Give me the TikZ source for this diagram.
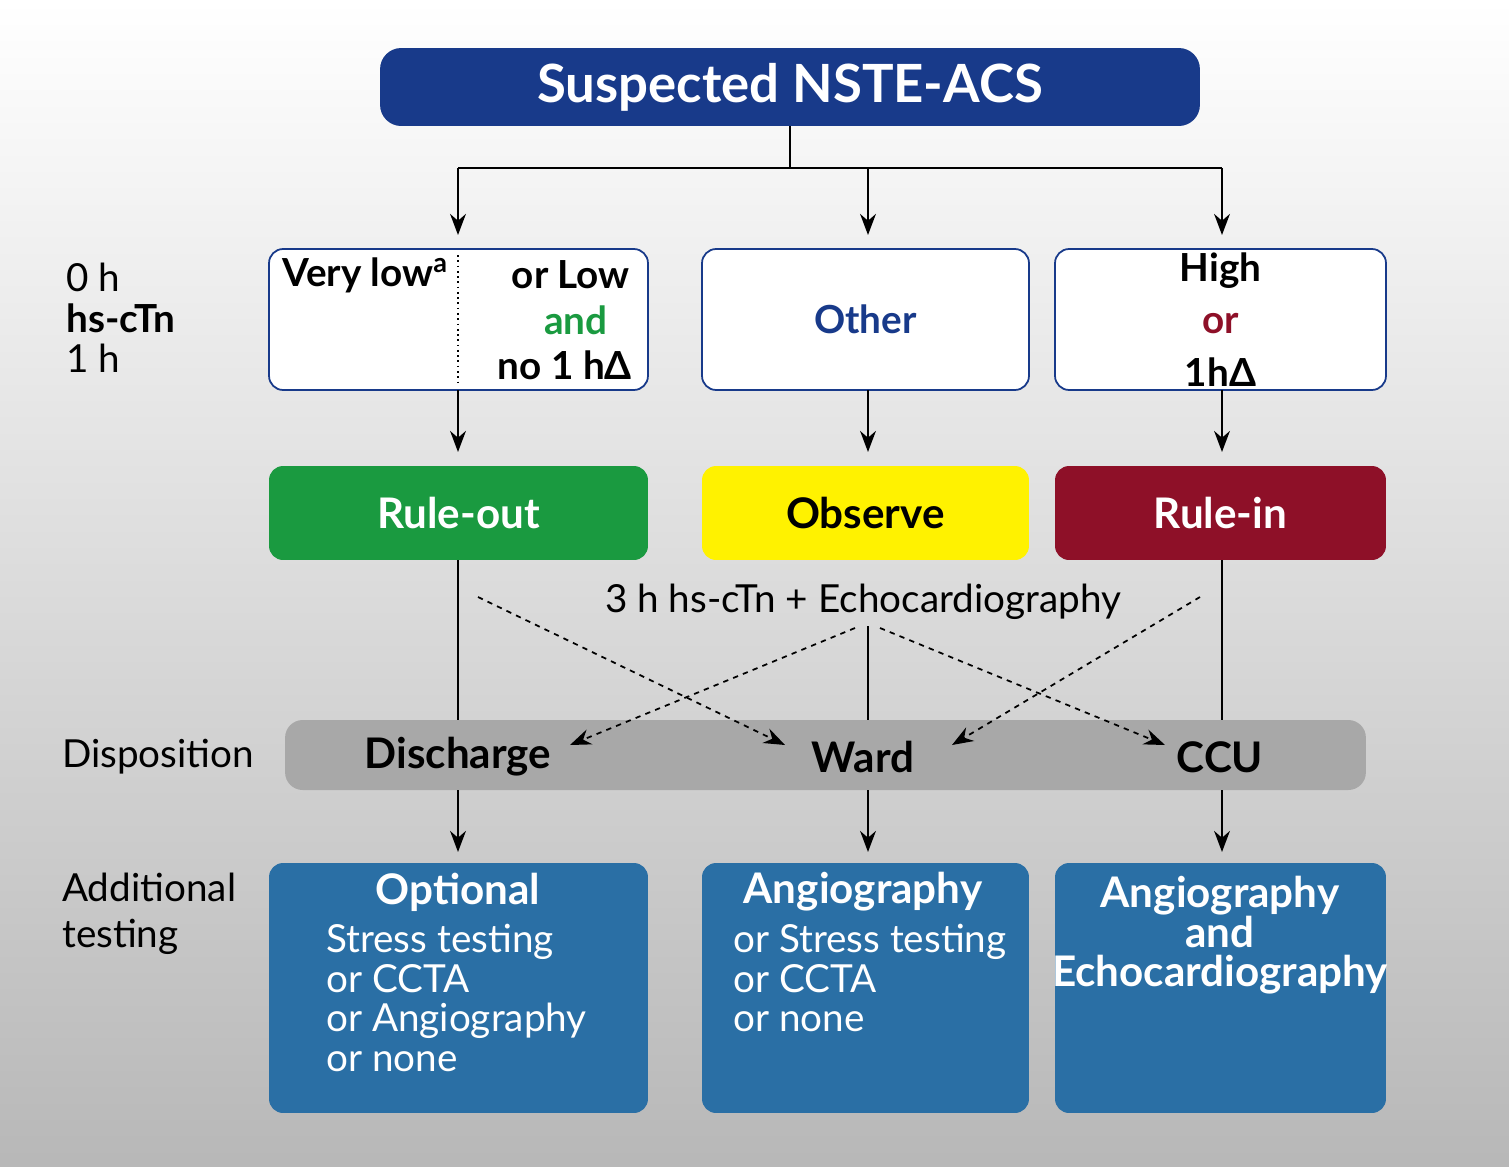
\documentclass[tikz,border=0pt]{standalone}
\usepackage{fontspec}
\setmainfont{Lato}
\usetikzlibrary{arrows.meta}
\definecolor{xnavy}{RGB}{24,58,138}
\definecolor{xgreen}{RGB}{26,154,64}
\definecolor{xyellow}{RGB}{255,242,0}
\definecolor{xred}{RGB}{142,16,40}
\definecolor{xsteel}{RGB}{42,111,165}
\definecolor{xbar}{RGB}{168,168,168}
\begin{document}
\begin{tikzpicture}[x=0.02cm,y=-0.02cm,>={Stealth[length=12pt,width=9pt]},font=\fontsize{22}{28}\selectfont]
\tikzset{risk/.style={draw=xnavy,line width=1pt,fill=white,rounded corners=8pt,minimum height=2.82cm}}
\tikzset{triage/.style={rounded corners=8pt,minimum height=1.88cm,font=\fontsize{24}{28}\selectfont\bfseries}}
\tikzset{test/.style={fill=xsteel,rounded corners=8pt,minimum height=5cm,text=white}}
\tikzset{flow/.style={->,line width=1.2pt}}
\tikzset{cross/.style={->,dashed,line width=1pt}}
\shade[top color=white,bottom color=black!28] (0,0) rectangle (1509,1167);
\node[fill=xnavy,rounded corners=12pt,minimum width=16.4cm,minimum height=1.56cm,text=white,font=\fontsize{30}{34}\selectfont\bfseries] (top) at (790,87) {Suspected NSTE-ACS};
% risk classes
\node[risk,minimum width=7.58cm] (low) at (458.5,319.5) {};
\node[risk,minimum width=6.54cm] (other) at (865.5,319.5) {};
\node[risk,minimum width=6.62cm] (high) at (1220.5,319.5) {};
\draw[dotted,line width=1pt] (458,255) -- (458,383);
\node[anchor=west,font=\fontsize{22}{28}\selectfont\bfseries] (vlow) at (276,275) {Very low\textsuperscript{a}};
\node[anchor=east,font=\fontsize{22}{28}\selectfont\bfseries] (orlow) at (636,275) {or Low};
\node[text=xgreen,font=\fontsize{22}{28}\selectfont\bfseries] (and) at (576,320) {and};
\node[anchor=east,font=\fontsize{22}{28}\selectfont\bfseries] (nodelta) at (638,365) {no 1 hΔ};
\node[text=xnavy,font=\fontsize{22}{28}\selectfont\bfseries] at (other) {Other};
\node[align=center,font=\fontsize{22}{30}\selectfont\bfseries] at (high) {High\\\textcolor{xred}{or}\\1hΔ};
% triage
\node[triage,fill=xgreen,text=white,minimum width=7.58cm] (out) at (458.5,513) {Rule-out};
\node[triage,fill=xyellow,minimum width=6.54cm] (obs) at (865.5,513) {Observe};
\node[triage,fill=xred,text=white,minimum width=6.62cm] (in) at (1220.5,513) {Rule-in};
\node (echo) at (863,602) {3 h hs-cTn + Echocardiography};
% disposition
\node[fill=xbar,rounded corners=10pt,minimum width=21.62cm,minimum height=1.4cm] (bar) at (825.5,755) {};
\node[font=\fontsize{24}{28}\selectfont\bfseries] (dis) at (458,757) {Discharge};
\node[font=\fontsize{24}{28}\selectfont\bfseries] (ward) at (863,757) {Ward};
\node[font=\fontsize{24}{28}\selectfont\bfseries] (ccu) at (1220,757) {CCU};
% testing
\node[test,minimum width=7.58cm] (t1) at (458.5,988) {};
\node[test,minimum width=6.54cm] (t2) at (865.5,988) {};
\node[test,minimum width=6.62cm] (t3) at (1220.5,988) {};
\node[text=white,font=\fontsize{24}{28}\selectfont\bfseries] at (458,892) {Optional};
\node[text=white,anchor=north west,align=left,font=\fontsize{22}{22.5}\selectfont] at (320,918) {Stress testing\\or CCTA\\or Angiography\\or none};
\node[text=white,font=\fontsize{24}{28}\selectfont\bfseries] at (863,892) {Angiography};
\node[text=white,anchor=north west,align=left,font=\fontsize{22}{22.5}\selectfont] at (727,918) {or Stress testing\\or CCTA\\or none};
\node[text=white,anchor=north,align=center,font=\fontsize{24}{22.5}\selectfont\bfseries] at (1220,870) {Angiography\\and\\Echocardiography};
% left labels
\node[anchor=west,align=left,font=\fontsize{22}{23}\selectfont] at (60,318) {0 h\\\textbf{hs-cTn}\\1 h};
\node[anchor=west] at (56,757) {Disposition};
\node[anchor=west,align=left,font=\fontsize{22}{26}\selectfont] at (56,914) {Additional\\testing};
% connectors
\coordinate (split) at (790,168);
\draw[line width=1.2pt] (top.south) -- (split);
\draw[line width=1.2pt] (458,168) -- (1222,168);
\draw[flow] (458,168) -- (458,235);
\draw[flow] (868,168) -- (868,235);
\draw[flow] (1222,168) -- (1222,235);
\draw[flow] (458,390) -- (458,452);
\draw[flow] (868,390) -- (868,452);
\draw[flow] (1222,390) -- (1222,452);
\draw[line width=1.2pt] (458,560) -- (458,720);
\draw[line width=1.2pt] (868,626) -- (868,720);
\draw[line width=1.2pt] (1222,560) -- (1222,720);
\draw[cross] (478,597) -- (785,745);
\draw[cross] (855,628) -- (570,745);
\draw[cross] (880,628) -- (1165,745);
\draw[cross] (1200,597) -- (952,745);
\draw[flow] (458,790) -- (458,852);
\draw[flow] (868,790) -- (868,852);
\draw[flow] (1222,790) -- (1222,852);
\end{tikzpicture}
\end{document}
